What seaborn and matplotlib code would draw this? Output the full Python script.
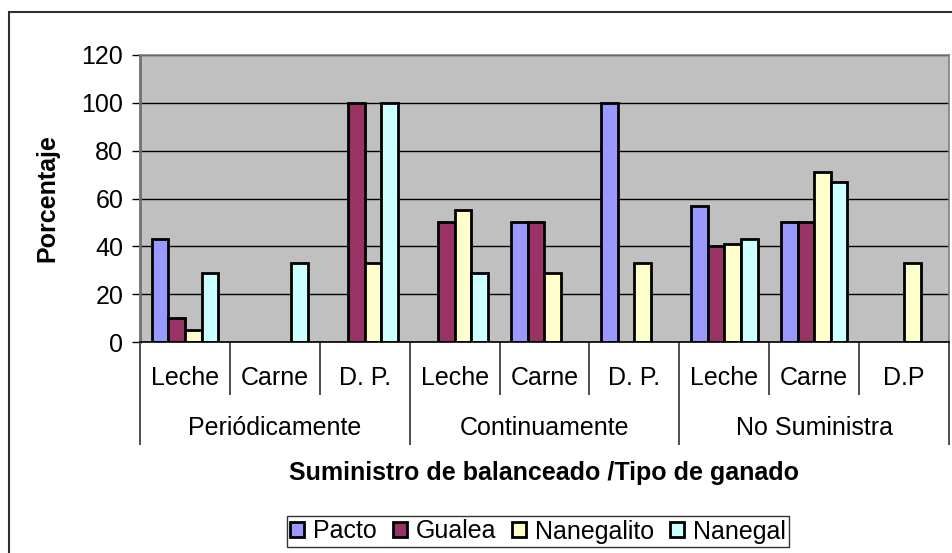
import matplotlib
matplotlib.use("Agg")
import matplotlib.pyplot as plt
import matplotlib.patches as mpatches
import matplotlib.transforms as mtransforms
import numpy as np
import pandas as pd
import seaborn as sns

# ---------------- data ----------------
groups = ["Periódicamente", "Continuamente", "No Suministra"]
subcats = ["Leche", "Carne", "D. P.", "Leche", "Carne", "D. P.", "Leche", "Carne", "D.P"]
series = ["Pacto", "Gualea", "Nanegalito", "Nanegal"]
colors = ["#9999FF", "#993366", "#FFFFCC", "#CCFFFF"]

pacto      = [43, None, None, None, 50, 100, 57, 50, None]
gualea     = [10, None, 100, 50, 50, None, 40, 50, None]
nanegalito = [5, None, 33, 55, 29, 33, 41, 71, 33]
nanegal    = [29, 33, 100, 29, None, None, 43, 67, None]

yticks = [0, 20, 40, 60, 80, 100, 120]
ylabel = "Porcentaje"
xlabel = "Suministro de balanceado /Tipo de ganado"

# ---------------- build table ----------------
keys = [f"{groups[i // 3]}|{s}" for i, s in enumerate(subcats)]
rows = []
for name, vals in zip(series, [pacto, gualea, nanegalito, nanegal]):
    for k, v in zip(keys, vals):
        rows.append({"cat": k, "serie": name, "valor": np.nan if v is None else v})
df = pd.DataFrame(rows)

sns.set_theme(style="white")
plt.rcParams["font.family"] = ["Liberation Sans", "DejaVu Sans"]
for k in ["text.color", "axes.labelcolor", "xtick.color", "ytick.color"]:
    plt.rcParams[k] = "black"

FS = 18
W, H = 953, 553
fig = plt.figure(figsize=(W / 100, H / 100), dpi=100)
fig.patch.set_facecolor("white")

L, R, T, B = 140, 949, 55, 342
ax = fig.add_axes([L / W, 1 - B / H, (R - L) / W, (B - T) / H])
ax.set_facecolor("#C0C0C0")

sns.barplot(data=df, x="cat", y="valor", hue="serie", order=keys, hue_order=series,
            palette=colors, edgecolor="black", linewidth=2.0, width=0.74,
            saturation=1, ax=ax, legend=False, errorbar=None)

ax.set_xlim(-0.5, len(keys) - 0.5)
ax.set_ylim(0, 120)
ax.set_yticks(yticks)
ax.set_yticklabels([str(t) for t in yticks])
ax.yaxis.grid(True, color="black", linewidth=1)
ax.set_axisbelow(True)
ax.tick_params(axis="y", length=6, width=1, color="black", direction="out",
               labelsize=FS, pad=6, left=True)
ax.set_xticks([])
ax.set_xlabel("")
ax.set_ylabel("")

for side in ["top", "right"]:
    ax.spines[side].set_color("#808080")
    ax.spines[side].set_linewidth(1.2)
ax.spines["left"].set_color("#707070")
ax.spines["left"].set_linewidth(2)
ax.spines["bottom"].set_color("black")
ax.spines["bottom"].set_linewidth(1.2)

ph = B - T
trans = mtransforms.blended_transform_factory(ax.transData, ax.transAxes)
y_sub = (B - 395) / ph
y_grp = (B - 445) / ph
for i in range(len(keys) + 1):
    xb = i - 0.5
    y_end = y_grp if i % 3 == 0 else y_sub
    ax.plot([xb, xb], [0, y_end], transform=trans, color="#303030", lw=1.2,
            clip_on=False, solid_capstyle="butt")

for i, s in enumerate(subcats):
    ax.text(i, (B - 378) / ph, s, transform=trans, ha="center", va="center", fontsize=FS)
for g, name in enumerate(groups):
    ax.text(g * 3 + 1, (B - 428) / ph, name, transform=trans, ha="center", va="center",
            fontsize=FS)

ax.text(0.5, (B - 473) / ph, xlabel, transform=ax.transAxes, ha="center", va="center",
        fontsize=FS, fontweight="bold")
fig.text(47 / W, 1 - 198 / H, ylabel, rotation=90, ha="center", va="center",
         fontsize=FS, fontweight="bold")

# figure border
fig.patches.append(mpatches.Rectangle((9 / W, -0.1), 1.2, 1 - 12 / H + 0.1,
                                      transform=fig.transFigure, fill=False,
                                      edgecolor="#303030", linewidth=1.5))

handles = [mpatches.Patch(facecolor=c, edgecolor="black", linewidth=2.0, label=s)
           for s, c in zip(series, colors)]
leg = fig.legend(handles=handles, loc="center", bbox_to_anchor=(538 / W, 1 - 531.5 / H),
                 ncol=4, fontsize=FS, frameon=True, fancybox=False, handlelength=0.55,
                 handleheight=0.55, handletextpad=0.35, columnspacing=0.65,
                 borderpad=0.15, borderaxespad=0)
leg.get_frame().set_edgecolor("black")
leg.get_frame().set_linewidth(1)

fig.savefig("out.png", dpi=100)
